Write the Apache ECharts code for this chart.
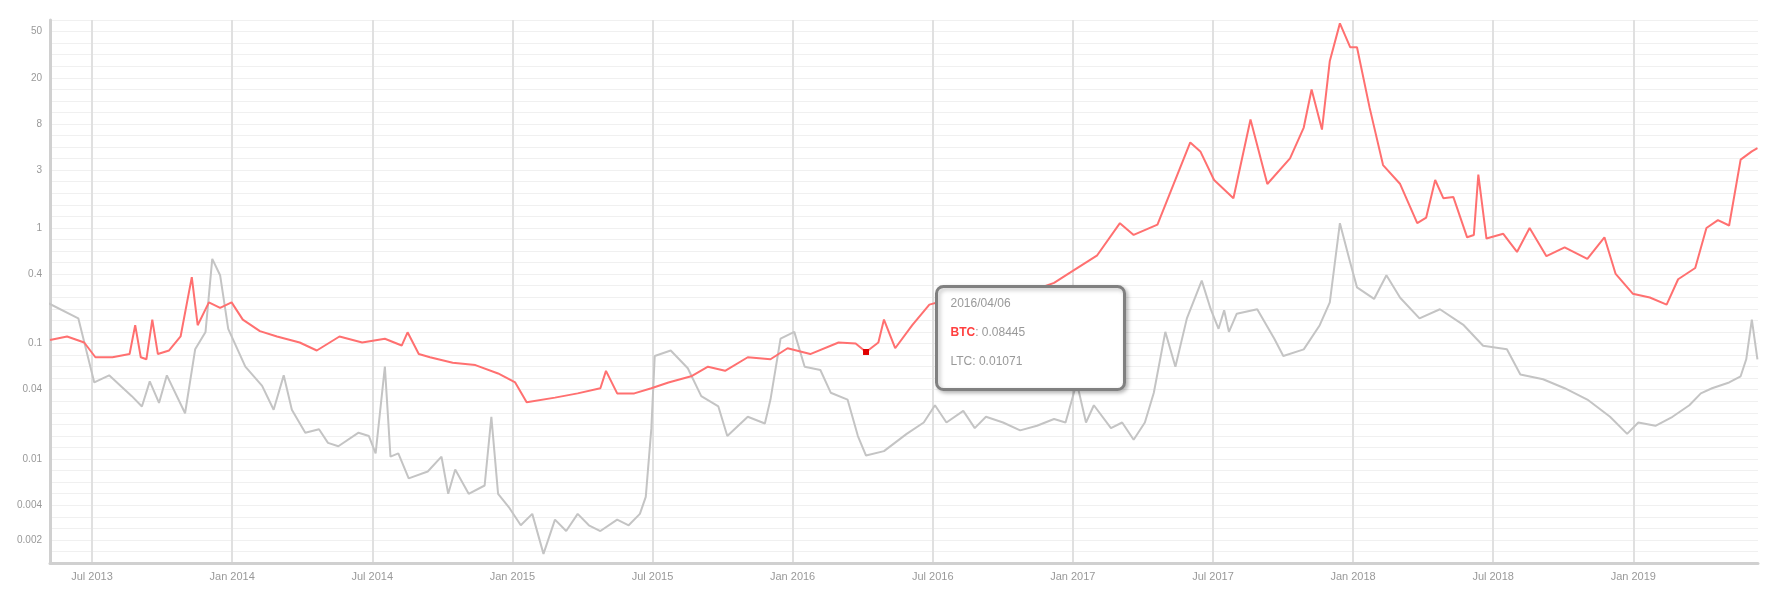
<!DOCTYPE html>
<html>
<head>
<meta charset="utf-8">
<script src="https://cdn.jsdelivr.net/npm/echarts@6/dist/echarts.min.js"></script>
<style>
  html, body { margin: 0; padding: 0; background: #fff; }
  #main { width: 1772px; height: 600px; }
</style>
</head>
<body>
<div id="main"></div>
<script>
// dates as decimal years
var btcDates = [2013.350, 2013.411, 2013.472, 2013.512, 2013.573, 2013.634, 2013.654, 2013.674, 2013.694, 2013.715, 2013.735, 2013.775, 2013.816, 2013.856, 2013.877, 2013.917, 2013.957, 2013.998, 2014.038, 2014.099, 2014.160, 2014.241, 2014.302, 2014.383, 2014.464, 2014.545, 2014.605, 2014.626, 2014.666, 2014.706, 2014.787, 2014.868, 2014.949, 2015.010, 2015.051, 2015.152, 2015.233, 2015.314, 2015.334, 2015.374, 2015.435, 2015.496, 2015.557, 2015.638, 2015.698, 2015.759, 2015.840, 2015.921, 2015.982, 2016.063, 2016.164, 2016.225, 2016.262, 2016.306, 2016.326, 2016.366, 2016.427, 2016.488, 2016.549, 2016.609, 2016.690, 2016.771, 2016.852, 2016.933, 2016.990, 2017.087, 2017.168, 2017.217, 2017.302, 2017.419, 2017.455, 2017.504, 2017.573, 2017.634, 2017.694, 2017.775, 2017.824, 2017.852, 2017.889, 2017.917, 2017.953, 2017.990, 2018.014, 2018.059, 2018.107, 2018.168, 2018.229, 2018.261, 2018.293, 2018.322, 2018.358, 2018.407, 2018.431, 2018.447, 2018.476, 2018.536, 2018.585, 2018.630, 2018.690, 2018.755, 2018.836, 2018.897, 2018.937, 2018.998, 2019.059, 2019.119, 2019.160, 2019.221, 2019.261, 2019.302, 2019.342, 2019.383, 2019.423, 2019.443];
var btcValues = [0.107, 0.115, 0.102, 0.076, 0.076, 0.081, 0.144, 0.076, 0.073, 0.161, 0.081, 0.087, 0.115, 0.375, 0.144, 0.227, 0.203, 0.227, 0.161, 0.128, 0.115, 0.102, 0.087, 0.115, 0.102, 0.110, 0.096, 0.125, 0.081, 0.076, 0.068, 0.065, 0.055, 0.046, 0.031, 0.034, 0.037, 0.041, 0.058, 0.037, 0.037, 0.041, 0.046, 0.052, 0.063, 0.058, 0.076, 0.073, 0.091, 0.081, 0.102, 0.100, 0.08445, 0.102, 0.161, 0.091, 0.144, 0.217, 0.238, 0.267, 0.267, 0.267, 0.285, 0.335, 0.41, 0.58, 1.10, 0.87, 1.07, 5.5, 4.6, 2.6, 1.81, 8.7, 2.4, 4.0, 7.4, 15.8, 7.1, 27.9, 59, 36.6, 36.6, 11.0, 3.5, 2.4, 1.10, 1.23, 2.6, 1.81, 1.85, 0.83, 0.87, 2.9, 0.81, 0.89, 0.62, 1.0, 0.57, 0.68, 0.54, 0.83, 0.40, 0.27, 0.25, 0.217, 0.36, 0.45, 1.0, 1.17, 1.05, 3.9, 4.6, 4.9];

var ltcDates = [2013.346, 2013.451, 2013.508, 2013.561, 2013.642, 2013.678, 2013.706, 2013.739, 2013.767, 2013.832, 2013.868, 2013.905, 2013.929, 2013.957, 2013.986, 2014.047, 2014.107, 2014.148, 2014.184, 2014.213, 2014.261, 2014.310, 2014.342, 2014.379, 2014.451, 2014.488, 2014.512, 2014.545, 2014.565, 2014.593, 2014.630, 2014.698, 2014.747, 2014.771, 2014.796, 2014.844, 2014.901, 2014.925, 2014.949, 2014.990, 2015.030, 2015.071, 2015.111, 2015.152, 2015.192, 2015.233, 2015.273, 2015.314, 2015.374, 2015.415, 2015.455, 2015.476, 2015.496, 2015.508, 2015.565, 2015.626, 2015.674, 2015.735, 2015.767, 2015.840, 2015.901, 2015.921, 2015.957, 2016.006, 2016.043, 2016.099, 2016.136, 2016.196, 2016.233, 2016.262, 2016.326, 2016.407, 2016.468, 2016.508, 2016.549, 2016.609, 2016.650, 2016.690, 2016.751, 2016.812, 2016.872, 2016.933, 2016.974, 2017.014, 2017.047, 2017.075, 2017.136, 2017.176, 2017.217, 2017.257, 2017.289, 2017.330, 2017.366, 2017.407, 2017.460, 2017.492, 2017.520, 2017.540, 2017.557, 2017.585, 2017.658, 2017.719, 2017.751, 2017.824, 2017.881, 2017.917, 2017.953, 2017.990, 2018.014, 2018.075, 2018.119, 2018.168, 2018.237, 2018.310, 2018.395, 2018.464, 2018.549, 2018.597, 2018.678, 2018.755, 2018.836, 2018.917, 2018.978, 2019.018, 2019.079, 2019.140, 2019.200, 2019.241, 2019.281, 2019.342, 2019.383, 2019.403, 2019.423, 2019.443];
var ltcValues = [0.222, 0.165, 0.046, 0.053, 0.035, 0.0285, 0.047, 0.0306, 0.053, 0.0249, 0.089, 0.126, 0.54, 0.39, 0.134, 0.063, 0.043, 0.0267, 0.053, 0.0267, 0.0169, 0.0181, 0.0138, 0.0129, 0.0169, 0.0158, 0.0112, 0.063, 0.0105, 0.0112, 0.0068, 0.0078, 0.0105, 0.0050, 0.0081, 0.0050, 0.0059, 0.0232, 0.0050, 0.00375, 0.00267, 0.00335, 0.00151, 0.00299, 0.00238, 0.00335, 0.00267, 0.00238, 0.00299, 0.00267, 0.00335, 0.0047, 0.0185, 0.078, 0.087, 0.061, 0.035, 0.0285, 0.0158, 0.0232, 0.0203, 0.0327, 0.110, 0.126, 0.063, 0.059, 0.0375, 0.0327, 0.0158, 0.01071, 0.0117, 0.0165, 0.0207, 0.0292, 0.0207, 0.0261, 0.0185, 0.0232, 0.0207, 0.0177, 0.0194, 0.0222, 0.0207, 0.046, 0.0207, 0.0292, 0.0185, 0.0207, 0.0147, 0.0207, 0.0375, 0.126, 0.063, 0.165, 0.35, 0.198, 0.134, 0.194, 0.126, 0.181, 0.198, 0.110, 0.078, 0.089, 0.144, 0.227, 1.10, 0.50, 0.306, 0.243, 0.39, 0.249, 0.165, 0.198, 0.144, 0.0955, 0.089, 0.054, 0.049, 0.041, 0.0327, 0.0232, 0.0165, 0.0207, 0.0194, 0.0232, 0.0292, 0.037, 0.041, 0.046, 0.052, 0.073, 0.161, 0.073];

var xTicks = [2013.5, 2014.0, 2014.5, 2015.0, 2015.5, 2016.0, 2016.5, 2017.0, 2017.5, 2018.0, 2018.5, 2019.0];
var yTickLabels = [50, 20, 8, 3, 1, 0.4, 0.1, 0.04, 0.01, 0.004, 0.002];
var tipDate = '2016/04/06';
var tipBtc = '0.08445';
var tipLtc = '0.01071';

function toPairs(dates, vals) {
    return dates.map(function (d, i) { return [d, Math.log10(vals[i])]; });
}

var chart = echarts.init(document.getElementById('main'));
var labelLogs = yTickLabels.map(function (v) { return Math.log10(v); });

var option = {
    animation: false,
    grid: { left: 50, right: 14, top: 20, bottom: 37 },
    xAxis: {
        type: 'value',
        min: 2013.35,
        max: 2019.445,
        axisLine: { show: true, onZero: false, lineStyle: { color: '#d0d0d0', width: 3 } },
        axisTick: { show: false, customValues: xTicks },
        splitLine: { show: true, lineStyle: { color: '#e0e0e0', width: 2 } },
        axisLabel: {
            customValues: xTicks,
            color: '#999', fontSize: 11, fontFamily: 'Liberation Sans',
            formatter: function (v) {
                var y = Math.floor(v + 0.001);
                return (v - y > 0.25 ? 'Jul ' : 'Jan ') + y;
            }
        }
    },
    yAxis: {
        type: 'value',
        min: -2.9,
        max: 1.8,
        interval: 0.1,
        axisLine: { show: true, onZero: false, lineStyle: { color: '#d0d0d0', width: 3 } },
        axisTick: { show: false },
        splitLine: { lineStyle: { color: '#f0f0f0', width: 1 } },
        axisLabel: {
            color: '#999', fontSize: 10, fontFamily: 'Liberation Sans', margin: 8,
            formatter: function (v) {
                for (var i = 0; i < labelLogs.length; i++) {
                    if (Math.abs(labelLogs[i] - v) < 0.045) return String(yTickLabels[i]);
                }
                return '';
            }
        }
    },
    series: [
        {
            name: 'LTC', type: 'line', showSymbol: false,
            lineStyle: { color: '#c4c4c4', width: 2 },
            data: toPairs(ltcDates, ltcValues)
        },
        {
            name: 'BTC', type: 'line', showSymbol: false,
            lineStyle: { color: '#ff7070', width: 2 },
            data: toPairs(btcDates, btcValues),
            markPoint: {
                symbol: 'rect', symbolSize: 6,
                itemStyle: { color: '#e00000' },
                label: { show: false },
                data: [{ coord: [2016.262, Math.log10(0.08445)] }]
            }
        }
    ],
    graphic: [{
        type: 'group', left: 935, top: 285, z: 100,
        children: [
            { type: 'rect', z: 100, shape: { width: 188, height: 103, r: 7 },
              style: { fill: '#fff', stroke: '#808080', lineWidth: 3, shadowBlur: 4, shadowColor: 'rgba(0,0,0,0.25)', shadowOffsetX: 2, shadowOffsetY: 2 } },
            { type: 'text', z: 101, left: 14, top: 11, style: { text: tipDate, fill: '#999', fontSize: 12, fontFamily: 'Liberation Sans' } },
            { type: 'text', z: 101, left: 14, top: 40, style: {
                text: '{b|BTC}{v|: ' + tipBtc + '}',
                rich: {
                    b: { fill: '#ff4040', fontWeight: 'bold', fontSize: 12, fontFamily: 'Liberation Sans' },
                    v: { fill: '#999', fontSize: 12, fontFamily: 'Liberation Sans' }
                }
            } },
            { type: 'text', z: 101, left: 14, top: 69, style: { text: 'LTC: ' + tipLtc, fill: '#999', fontSize: 12, fontFamily: 'Liberation Sans' } }
        ]
    }]
};
chart.setOption(option);
</script>
</body>
</html>
